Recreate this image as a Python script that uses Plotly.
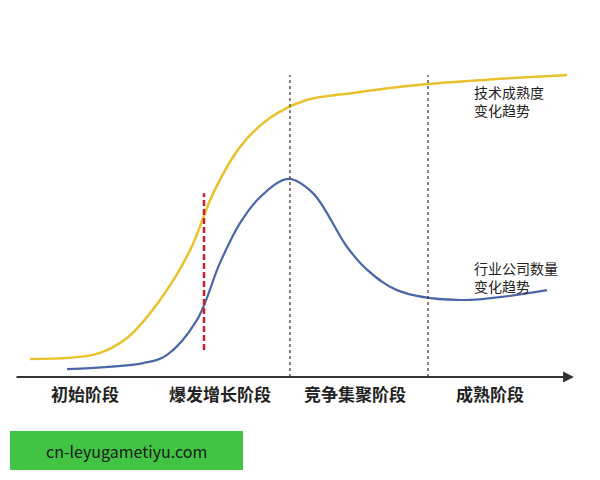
import plotly.graph_objects as go

# time axis 0-100, level 0-100
tech_x = [2.7, 14.6, 20.0, 25.9, 31.3, 35.4, 40.2, 45.5, 52.1, 60.4, 73.6, 98.6]
tech_y = [5.7, 7.3, 12.3, 24.3, 40.1, 58.0, 72.6, 81.7, 87.4, 89.6, 92.4, 95.3]

firm_x = [9.3, 22.9, 27.1, 32.5, 36.6, 40.2, 43.8, 48.8, 53.2, 59.3, 62.9, 68.2, 78.9, 95.0]
firm_y = [2.5, 4.4, 6.9, 18.0, 36.0, 48.6, 56.8, 62.5, 58.0, 41.0, 33.8, 27.4, 24.3, 27.4]

stage_names = ["初始阶段", "爆发增长阶段", "竞争集聚阶段", "成熟阶段"]
stage_x = [12.5, 36.6, 60.7, 84.8]

tech_label = ["技术成熟度", "变化趋势"]
firm_label = ["行业公司数量", "变化趋势"]

boundary_x = [49.1, 73.75]
burst_x = 33.75

FONT = "Noto Sans CJK SC, Noto Sans, sans-serif"
OFF = 8  # page body margin


def px(x):
    return (x - OFF) / 600


def py(y):
    return 1 - (y - OFF) / 480


fig = go.Figure()
fig.add_trace(go.Scatter(x=tech_x, y=tech_y, mode="lines",
                         line=dict(color="#E8C22E", width=2.5, shape="spline", smoothing=1),
                         hoverinfo="skip"))
fig.add_trace(go.Scatter(x=firm_x, y=firm_y, mode="lines",
                         line=dict(color="#4A67A8", width=2.2, shape="spline", smoothing=1),
                         hoverinfo="skip"))

shapes = []
for bx in boundary_x:
    shapes.append(dict(type="line", x0=bx, x1=bx, y0=0, y1=95.3, xref="x", yref="y",
                       line=dict(color="#333333", width=1.2, dash="dot")))
shapes.append(dict(type="line", x0=burst_x, x1=burst_x, y0=8.5, y1=58.0, xref="x", yref="y",
                   line=dict(color="#C8202A", width=2.5, dash="6px,3px")))
# green banner
shapes.append(dict(type="rect", xref="paper", yref="paper",
                   x0=px(10), x1=px(243), y0=py(470), y1=py(431),
                   fillcolor="#41C443", line=dict(width=0)))

annotations = [
    # x axis with arrow
    dict(x=99.8, y=0, ax=0, ay=0, xref="x", yref="y", axref="x", ayref="y",
         showarrow=True, arrowhead=2, arrowsize=1.2, arrowwidth=1.8,
         arrowcolor="#333333", text=""),
    dict(x=px(126), y=py(451), xref="paper", yref="paper",
         xanchor="center", yanchor="middle",
         text="cn-leyugametiyu.com", showarrow=False,
         font=dict(family=FONT, size=16, color="#1a1a1a")),
]
for lines, cy in [(tech_label, 101), (firm_label, 277)]:
    annotations.append(dict(x=px(472), y=py(cy), xref="paper", yref="paper",
                            xanchor="left", yanchor="middle", align="left",
                            text="<br>".join(lines), showarrow=False,
                            font=dict(family=FONT, size=14, color="#222222")))
for name, sx in zip(stage_names, stage_x):
    annotations.append(dict(x=sx, y=py(393), xref="x", yref="paper",
                            xanchor="center", yanchor="middle",
                            text="<b>" + name + "</b>", showarrow=False,
                            font=dict(family=FONT, size=17, color="#222222")))

fig.update_layout(
    width=600, height=480,
    margin=dict(l=0, r=0, t=0, b=0),
    paper_bgcolor="white", plot_bgcolor="white",
    showlegend=False,
    xaxis=dict(domain=[px(15), px(575)], range=[0, 100], visible=False),
    yaxis=dict(domain=[py(377), py(60)], range=[0, 100], visible=False),
    shapes=shapes,
    annotations=annotations,
)

fig.write_html("out.html")
